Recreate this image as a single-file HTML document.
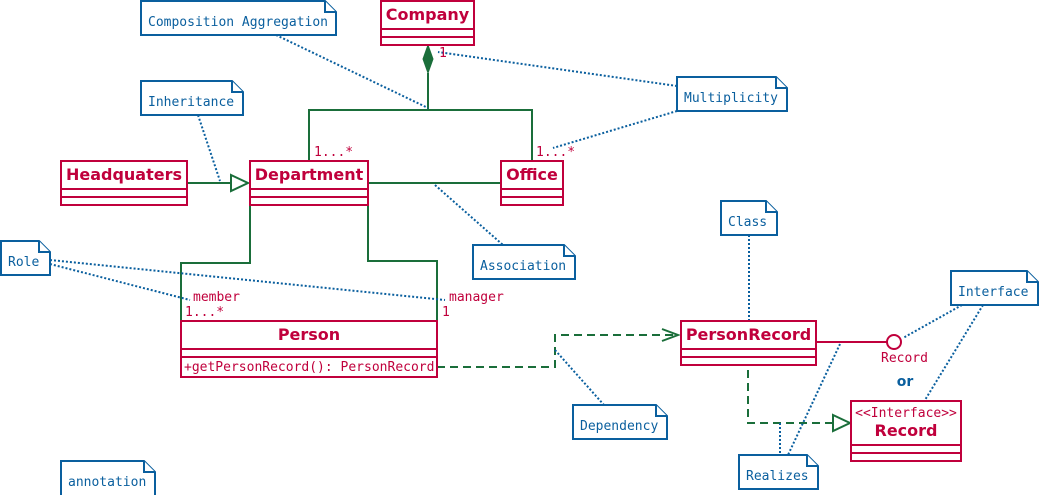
<!DOCTYPE html>
<html><head><meta charset="utf-8"><style>
html,body{margin:0;padding:0;background:#fff;width:1039px;height:495px;overflow:hidden}
svg{display:block}
.c{fill:#fff;stroke:#c0003c;stroke-width:2}
.cl{stroke:#c0003c;stroke-width:2}
.cn{font-family:"DejaVu Sans","Liberation Sans",sans-serif;font-weight:bold;font-size:16px;fill:#c0003c}
.n{fill:#fff;stroke:#0a5f9e;stroke-width:2}
.nt{font-family:"DejaVu Sans Mono","Liberation Mono",monospace;font-size:13px;fill:#0a5f9e}
.dl{stroke:#0a5f9e;stroke-width:2;stroke-dasharray:2,2;fill:none}
.g{stroke:#1a6e3a;stroke-width:2;fill:none}
.gd{stroke:#1a6e3a;stroke-width:2;fill:none;stroke-dasharray:8,5}
.rl{font-family:"DejaVu Sans Mono","Liberation Mono",monospace;font-size:13px;fill:#c0003c}
</style></head><body>
<svg width="1039" height="495" viewBox="0 0 1039 495">
<defs><clipPath id="pc"><rect x="181" y="357" width="256" height="20"/></clipPath></defs>
<!-- connectors -->
<polygon points="428,45 433,59 428,73 423,59" fill="#1a6e3a" stroke="#1a6e3a" stroke-width="1"/>
<path class="g" d="M428,73 V110 M309,161 V110 H532 V161"/>
<path class="g" d="M187,183 H230"/>
<polygon points="231,175 248,183 231,191" fill="#fff" stroke="#1a6e3a" stroke-width="2"/>
<path class="g" d="M368,183 H501"/>
<path class="g" d="M250,205 V263 H181 V321 M368,205 V261 H437 V321"/>
<path class="gd" d="M437,367 H555 V335 H676"/>
<path class="g" d="M662,329 L678,335 L662,341"/>
<path class="cl" d="M816,342 H887"/>
<circle cx="894" cy="342" r="7" fill="#fff" stroke="#c0003c" stroke-width="2"/>
<path class="gd" d="M748,370 V423 H833"/>
<polygon points="833,415 850,423 833,431" fill="#fff" stroke="#1a6e3a" stroke-width="2"/>
<!-- note lines -->
<path class="dl" d="M276,35 L428,108 M677,86 L438,52 M677,111 L553,148 M198,115 L220,181 M435,185 L503,245 M50,264 L190,300 M50,260 L445,300 M749,235 V320 M962,305 L903,338 M983,305 L925,400 M555,350 L604,405 M780,423 V455 M840,344 L788,455"/>
<!-- classes -->
<rect class="c" x="381" y="1" width="93" height="44"/><path class="cl" d="M381,29H474M381,37H474"/>
<text class="cn" x="427.5" y="20" text-anchor="middle">Company</text>
<rect class="c" x="61" y="161" width="126" height="44"/><path class="cl" d="M61,189H187M61,197H187"/>
<text class="cn" x="124" y="180" text-anchor="middle">Headquaters</text>
<rect class="c" x="250" y="161" width="118" height="44"/><path class="cl" d="M250,189H368M250,197H368"/>
<text class="cn" x="309" y="180" text-anchor="middle">Department</text>
<rect class="c" x="501" y="161" width="62" height="44"/><path class="cl" d="M501,189H563M501,197H563"/>
<text class="cn" x="532" y="180" text-anchor="middle">Office</text>
<rect class="c" x="181" y="321" width="256" height="56"/><path class="cl" d="M181,349H437M181,357H437"/>
<text class="cn" x="309" y="340" text-anchor="middle">Person</text>
<text class="rl" x="184" y="371" clip-path="url(#pc)">+getPersonRecord(): PersonRecord</text>
<rect class="c" x="681" y="321" width="135" height="44"/><path class="cl" d="M681,349H816M681,357H816"/>
<text class="cn" x="748.5" y="340" text-anchor="middle">PersonRecord</text>
<rect class="c" x="851" y="401" width="110" height="60"/><path class="cl" d="M851,445H961M851,453H961"/>
<text class="rl" x="906" y="417" text-anchor="middle" font-size="12.5">&lt;&lt;Interface&gt;&gt;</text>
<text class="cn" x="906" y="436" text-anchor="middle">Record</text>
<!-- labels -->
<text class="rl" x="314" y="156">1...*</text>
<text class="rl" x="536" y="156">1...*</text>
<text class="rl" x="439" y="57">1</text>
<text class="rl" x="193" y="301">member</text>
<text class="rl" x="185" y="316">1...*</text>
<text class="rl" x="449" y="301">manager</text>
<text class="rl" x="442" y="316">1</text>
<text class="rl" x="881" y="362">Record</text>
<text x="905" y="386" text-anchor="middle" font-family="DejaVu Sans,sans-serif" font-weight="bold" font-size="14" fill="#0a5f9e">or</text>
<!-- notes -->
<g>
<path class="n" d="M141,1H325L336,12V35H141Z"/><path class="n" d="M325,1V12H336" fill="none"/><text class="nt" x="148" y="26">Composition Aggregation</text>
<path class="n" d="M141,81H232L243,92V115H141Z"/><path class="n" d="M232,81V92H243" fill="none"/><text class="nt" x="148" y="106">Inheritance</text>
<path class="n" d="M1,241H39L50,252V275H1Z"/><path class="n" d="M39,241V252H50" fill="none"/><text class="nt" x="8" y="266">Role</text>
<path class="n" d="M473,245H564L575,256V279H473Z"/><path class="n" d="M564,245V256H575" fill="none"/><text class="nt" x="480" y="270">Association</text>
<path class="n" d="M677,77H776L787,88V111H677Z"/><path class="n" d="M776,77V88H787" fill="none"/><text class="nt" x="684" y="102">Multiplicity</text>
<path class="n" d="M721,201H766L777,212V235H721Z"/><path class="n" d="M766,201V212H777" fill="none"/><text class="nt" x="728" y="226">Class</text>
<path class="n" d="M951,271H1027L1038,282V305H951Z"/><path class="n" d="M1027,271V282H1038" fill="none"/><text class="nt" x="958" y="296">Interface</text>
<path class="n" d="M573,405H656L667,416V439H573Z"/><path class="n" d="M656,405V416H667" fill="none"/><text class="nt" x="580" y="430">Dependency</text>
<path class="n" d="M739,455H807L818,466V489H739Z"/><path class="n" d="M807,455V466H818" fill="none"/><text class="nt" x="746" y="480">Realizes</text>
<path class="n" d="M61,461H144L155,472V496H61Z"/><path class="n" d="M144,461V472H155" fill="none"/><text class="nt" x="68" y="486">annotation</text>
</g>
</svg>
</body></html>
